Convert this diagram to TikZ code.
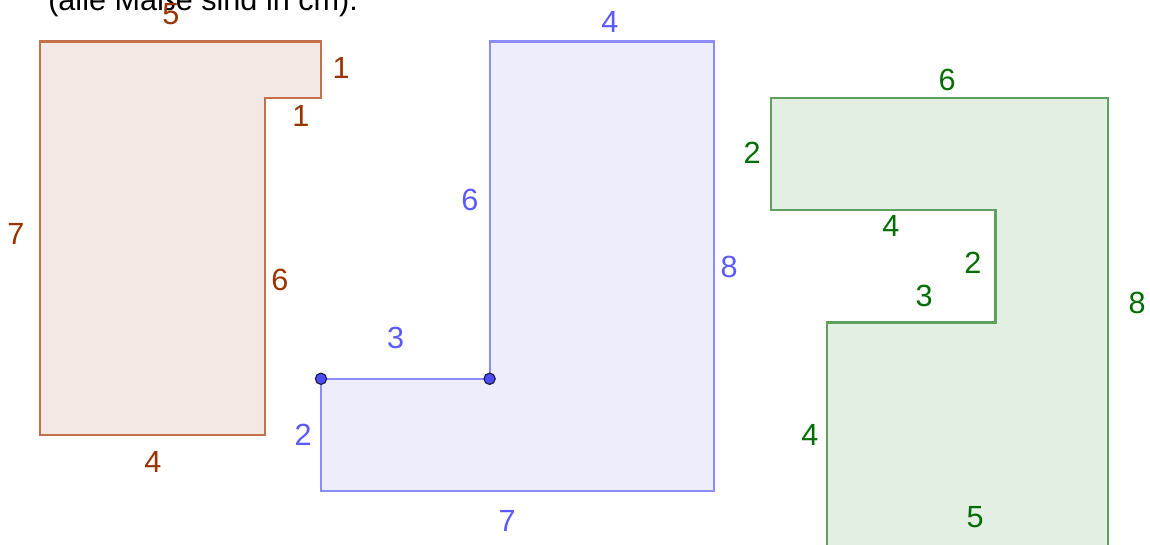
\documentclass[tikz,border=0pt]{standalone}
\usepackage{fontspec}
\setmainfont{Liberation Sans}

\begin{document}
\begin{tikzpicture}[
    lbl/.style={font=\fontsize{15.5}{18}\selectfont, inner sep=0pt},
    edge/.style={line width=1.1pt}
  ]
            \definecolor{brownline}{RGB}{196, 112, 72}
            \definecolor{brownfill}{RGB}{242, 233, 228}
            \definecolor{browntext}{RGB}{153, 51, 0}
            \definecolor{blueline}{RGB}{140, 140, 255}
            \definecolor{bluefill}{RGB}{237, 237, 252}
            \definecolor{bluetext}{RGB}{90, 90, 255}
            \definecolor{greenline}{RGB}{95, 160, 95}
            \definecolor{greenfill}{RGB}{228, 239, 228}
            \definecolor{greentext}{RGB}{0, 110, 0}

            \useasboundingbox (-0.7117,-1.940) rectangle (19.751,7.740);

            % heading, cut off at the top
            \node[lbl, anchor=base west] (note) at (0.14,7.56) {(alle Maße sind in cm).};

            % brown figure
            \filldraw[edge, draw=brownline, fill=brownfill] (0,0) -- (0,7) -- (5,7) -- (5,6) -- (4,6) -- (4,0) -- cycle;
            \node[lbl, text=browntext] (b5) at (2.33,7.49) {5};
            \node[lbl, text=browntext] (b1a) at (5.36,6.53) {1};
            \node[lbl, text=browntext] (b1b) at (4.64,5.68) {1};
            \node[lbl, text=browntext] (b7) at (-0.43,3.58) {7};
            \node[lbl, text=browntext] (b6) at (4.27,2.76) {6};
            \node[lbl, text=browntext] (b4) at (2.01,-0.48) {4};

            % blue figure
            \filldraw[edge, draw=blueline, fill=bluefill] (5,-1) -- (12,-1) -- (12,7) -- (8,7) -- (8,1) -- (5,1) -- cycle;
            \filldraw[fill={rgb,255:red,77;green,77;blue,255}, draw={rgb,255:red,30;green,30;blue,70}, line width=0.6pt] (5,1) circle (0.1) (8,1) circle (0.1);
            \node[lbl, text=bluetext] (u4) at (10.14,7.35) {4};
            \node[lbl, text=bluetext] (u8) at (12.26,2.99) {8};
            \node[lbl, text=bluetext] (u6) at (7.65,4.18) {6};
            \node[lbl, text=bluetext] (u3) at (6.33,1.73) {3};
            \node[lbl, text=bluetext] (u2) at (4.68,0) {2};
            \node[lbl, text=bluetext] (u7) at (8.31,-1.53) {7};

            % green figure
            \filldraw[edge, draw=greenline, fill=greenfill] (13,6) -- (19,6) -- (19,-2) -- (14,-2) -- (14,2) -- (17,2) -- (17,4) -- (13,4) -- cycle;
            \node[lbl, text=greentext] (g6) at (16.14,6.32) {6};
            \node[lbl, text=greentext] (g2a) at (12.67,5.02) {2};
            \node[lbl, text=greentext] (g4a) at (15.14,3.72) {4};
            \node[lbl, text=greentext] (g2b) at (16.6,3.06) {2};
            \node[lbl, text=greentext] (g3) at (15.73,2.47) {3};
            \node[lbl, text=greentext] (g8) at (19.52,2.35) {8};
            \node[lbl, text=greentext] (g4b) at (13.7,0) {4};
            \node[lbl, text=greentext] (g5) at (16.64,-1.46) {5};
        \end{tikzpicture}
\end{document}
